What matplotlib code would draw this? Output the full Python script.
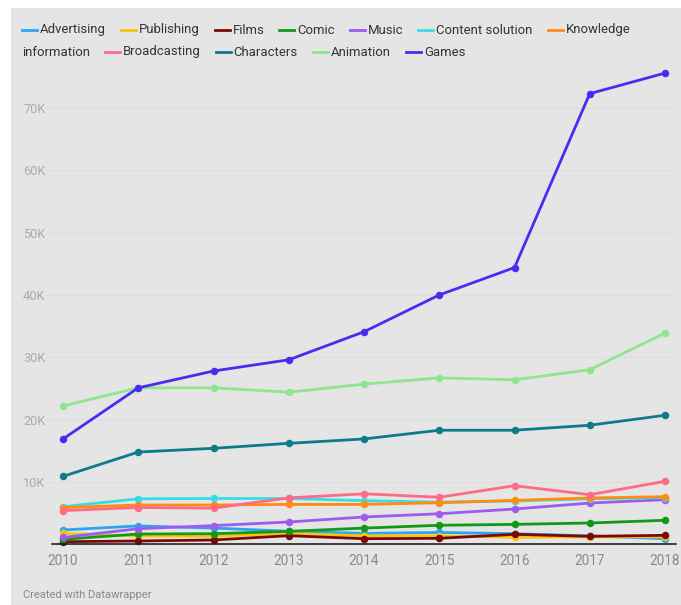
import matplotlib
matplotlib.use("Agg")
import matplotlib.pyplot as plt
from matplotlib.patches import Rectangle
from matplotlib.lines import Line2D
from matplotlib.ticker import FuncFormatter

years = [2010, 2011, 2012, 2013, 2014, 2015, 2016, 2017, 2018]

advertising = [2300, 2950, 2600, 2100, 1750, 1900, 1700, 1350, 900]
publishing = [1750, 1330, 1300, 1750, 1350, 1350, 1120, 1200, 1200]
films = [420, 530, 690, 1380, 900, 960, 1600, 1280, 1440]
comic = [800, 1650, 1700, 2080, 2600, 3050, 3200, 3420, 3850]
music = [1100, 2500, 3000, 3580, 4380, 4900, 5660, 6620, 7160]
content_solution = [6030, 7300, 7350, 7350, 7000, 6750, 6950, 7300, 7500]
knowledge_information = [5900, 6300, 6300, 6400, 6400, 6670, 7050, 7430, 7640]
broadcasting = [5400, 5900, 5800, 7450, 8100, 7550, 9400, 7960, 10100]
characters = [10900, 14800, 15400, 16200, 16900, 18300, 18300, 19100, 20700]
animation = [22200, 25100, 25100, 24400, 25700, 26700, 26400, 28000, 33900]
games = [16900, 25100, 27800, 29600, 34100, 40000, 44400, 72300, 75600]

series_names = ["Advertising", "Publishing", "Films", "Comic", "Music",
                "Content solution", "Knowledge information", "Broadcasting",
                "Characters", "Animation", "Games"]
series_values = [advertising, publishing, films, comic, music, content_solution,
                 knowledge_information, broadcasting, characters, animation, games]
colors = ["#2aa7ef", "#fbc40a", "#7a0a0a", "#12991a", "#9d5cf0", "#36dde6",
          "#ff8c0f", "#ff6b86", "#0f7a8a", "#8ee68e", "#4a2cf0"]

y_ticks = [10000, 20000, 30000, 40000, 50000, 60000, 70000]

W, H = 681, 605
fig = plt.figure(figsize=(W / 100, H / 100), dpi=100)
fig.patch.set_facecolor("white")
BG = "#e5e5e5"
bg_rect = Rectangle((11 / W, 0), 1 - 11 / W, 1 - 8 / H,
                    transform=fig.transFigure, facecolor=BG,
                    edgecolor="none", zorder=-10)
fig.patches.append(bg_rect)

FONT = ["Roboto", "DejaVu Sans"]
plt.rcParams["font.family"] = FONT

# axes in pixel coordinates
ax_left, ax_right = 46, 676
ax_bottom_px, ax_top_px = 544.3, 65
ax = fig.add_axes([ax_left / W, 1 - ax_bottom_px / H,
                   (ax_right - ax_left) / W, (ax_bottom_px - ax_top_px) / H])
ax.set_zorder(1)
ax.set_facecolor(BG)
ppy = 75.25
ax.set_xlim(2010 - (63 - ax_left) / ppy, 2018 + (ax_right - 665) / ppy)
ppk = 6.233 / 1000
ax.set_ylim(0, (ax_bottom_px - ax_top_px) / ppk)

for s in ax.spines.values():
    s.set_visible(False)

for yv in y_ticks:
    ax.axhline(yv, color="#dedede", lw=0.8, zorder=1)
ax.plot([ax.get_xlim()[0] + 6 / ppy, ax.get_xlim()[1]], [0, 0],
        color="#222222", lw=1.2, zorder=20, clip_on=False)

for name, vals, c in zip(series_names, series_values, colors):
    ax.plot(years, vals, color=c, lw=2.0, marker="o", markersize=5.4,
            markeredgewidth=0, zorder=5, solid_capstyle="round", clip_on=False)

ax.set_xticks(years)
ax.set_xticklabels([str(y) for y in years])
ax.set_yticks(y_ticks)
ax.yaxis.set_major_formatter(FuncFormatter(lambda v, p: f"{int(v/1000)}K"))
ax.tick_params(axis="x", length=0, pad=7, labelsize=9.8, labelcolor="#8a8a8a")
ax.tick_params(axis="y", length=0, labelsize=9.2, labelcolor="#aaaaaa")
for lab in ax.get_yticklabels():
    lab.set_horizontalalignment("left")
ax.yaxis.set_tick_params(pad=(ax_left - 23) * 0.72)

# legend as flowing text
fig.canvas.draw()
renderer = fig.canvas.get_renderer()

def text_width(s, fs):
    t = fig.text(0, 0, s, fontsize=fs, family=FONT)
    w = t.get_window_extent(renderer).width
    t.remove()
    return w

# calibrate font size so "Content solution" is ~96 px wide as in the reference
leg_fs = 10 * 96 / text_width("Content solution", 10)

x = 22
row_y = [30, 52]
row = 0
LINE_LEN, TEXT_OFF, GAP = 15, 18, 15

for name, c in zip(series_names, colors):
    y = row_y[row]
    fig.add_artist(Line2D([x / W, (x + LINE_LEN) / W], [1 - y / H, 1 - y / H],
                          color=c, lw=2.0, transform=fig.transFigure))
    x += TEXT_OFF
    if name == "Knowledge information":
        first, second = "Knowledge", "information"
        fig.text(x / W, 1 - y / H, first, fontsize=leg_fs, color="#333333",
                 va="center", ha="left", family=FONT)
        row = 1
        x = 22
        y = row_y[row]
        fig.text(x / W, 1 - y / H, second, fontsize=leg_fs, color="#333333",
                 va="center", ha="left", family=FONT)
        x += text_width(second, leg_fs) + GAP
    else:
        fig.text(x / W, 1 - y / H, name, fontsize=leg_fs, color="#333333",
                 va="center", ha="left", family=FONT)
        x += text_width(name, leg_fs) + GAP

fig.text(23 / W, 1 - 595 / H, "Created with Datawrapper", fontsize=8,
         color="#888888", va="center", ha="left", family=FONT)

fig.savefig("out.png", dpi=100, facecolor=fig.get_facecolor())
